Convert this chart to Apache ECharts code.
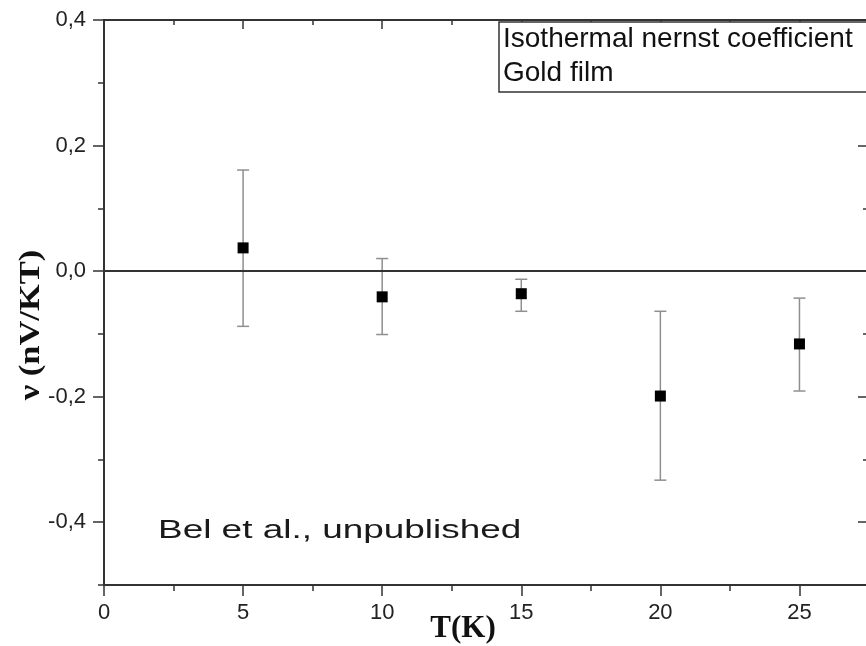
<!DOCTYPE html>
<html><head><meta charset="utf-8">
<script src="https://cdn.jsdelivr.net/npm/echarts@6/dist/echarts.min.js"></script>
<style>
html,body{margin:0;padding:0;overflow:hidden;background:#fff;width:866px;height:646px}
#c{width:880px;height:646px}
</style></head><body><div id="c"></div>
<script>
// ---- data ----
const temps = [5, 10, 15, 20, 25];
const nuValues = [0.037, -0.041, -0.036, -0.199, -0.116];
const errHigh = [0.161, 0.020, -0.013, -0.064, -0.043];
const errLow = [-0.088, -0.101, -0.064, -0.333, -0.191];
const xMajorTicks = [0, 5, 10, 15, 20, 25];
const xMinorTicks = [2.5, 7.5, 12.5, 17.5, 22.5];
const yMajorTicks = [-0.4, -0.2, 0, 0.2, 0.4];
const yMinorTicks = [-0.5, -0.3, -0.1, 0.1, 0.3];
const legendLines = ['Isothermal nernst coefficient', 'Gold film'];
const noteText = 'Bel et al., unpublished';
const xTitle = 'T(K)';
const yTitle = 'ν (nV/KT)';

const AX = '#333';
const labelFont = 'Liberation Sans, Arial, sans-serif';

function xAx(position, ticks, len, inside, withLabels) {
  return {
    type: 'value', gridIndex: 0, position: position, min: 0, max: 27.5,
    axisLine: {show: true, onZero: false, lineStyle: {color: AX, width: 2}},
    axisTick: {show: true, customValues: ticks, length: len, inside: inside, lineStyle: {color: AX, width: 1.5}},
    axisLabel: withLabels ? {show: true, customValues: ticks, margin: 17, fontSize: 22, fontFamily: labelFont, color: '#222',
      formatter: v => String(v)} : {show: false},
    splitLine: {show: false}
  };
}
function yAx(position, ticks, len, inside, withLabels) {
  return {
    type: 'value', gridIndex: 0, position: position, min: -0.5, max: 0.4,
    axisLine: {show: true, onZero: false, lineStyle: {color: AX, width: 2}},
    axisTick: {show: true, customValues: ticks, length: len, inside: inside, lineStyle: {color: AX, width: 1.5}},
    axisLabel: withLabels ? {show: true, customValues: ticks, margin: 18, fontSize: 22, fontFamily: labelFont, color: '#222',
      formatter: v => v.toFixed(1).replace('.', ',')} : {show: false},
    splitLine: {show: false}
  };
}

const chart = echarts.init(document.getElementById('c'), null, {renderer: 'canvas'});
chart.setOption({
  animation: false,
  backgroundColor: '#fff',
  grid: {left: 104, top: 20, width: 765, height: 565, outerBoundsMode: 'none', containLabel: false},
  xAxis: [
    xAx('bottom', xMajorTicks, 11, false, true),
    xAx('bottom', xMinorTicks, 6, false, false),
    xAx('top', xMajorTicks, 9, true, false),
    xAx('top', xMinorTicks, 5, true, false)
  ],
  yAxis: [
    yAx('left', yMajorTicks, 11, false, true),
    yAx('left', yMinorTicks, 6, false, false),
    yAx('right', yMajorTicks, 11, true, false),
    yAx('right', yMinorTicks, 6, true, false)
  ],
  series: [
    {
      type: 'custom', xAxisIndex: 0, yAxisIndex: 0, z: 2,
      data: temps.map((t, i) => [t, errLow[i], errHigh[i]]),
      encode: {x: 0, y: [1, 2]},
      renderItem: function (params, api) {
        const x = api.value(0);
        const pLo = api.coord([x, api.value(1)]);
        const pHi = api.coord([x, api.value(2)]);
        const hw = 6;
        const st = {stroke: '#8f8f8f', lineWidth: 1.5, fill: null};
        return {type: 'group', children: [
          {type: 'line', shape: {x1: pLo[0], y1: pLo[1], x2: pHi[0], y2: pHi[1]}, style: st},
          {type: 'line', shape: {x1: pHi[0] - hw, y1: pHi[1], x2: pHi[0] + hw, y2: pHi[1]}, style: st},
          {type: 'line', shape: {x1: pLo[0] - hw, y1: pLo[1], x2: pLo[0] + hw, y2: pLo[1]}, style: st}
        ]};
      }
    },
    {
      type: 'scatter', xAxisIndex: 0, yAxisIndex: 0, z: 4,
      symbol: 'rect', symbolSize: 11,
      itemStyle: {color: '#000', opacity: 1},
      data: temps.map((t, i) => [t, nuValues[i]]),
      markLine: {
        silent: true, symbol: ['none', 'none'], label: {show: false},
        lineStyle: {color: AX, width: 2, type: 'solid'},
        emphasis: {disabled: true},
        data: [{yAxis: 0}]
      }
    }
  ],
  graphic: [
    {type: 'rect', z: 10, shape: {x: 499, y: 22, width: 420, height: 70},
     style: {fill: '#fff', stroke: AX, lineWidth: 1.5}},
    {type: 'text', z: 11, x: 503, y: 39,
     style: {text: legendLines[0], font: '28px ' + labelFont, fill: '#111', align: 'left', verticalAlign: 'middle'}},
    {type: 'text', z: 11, x: 503, y: 73,
     style: {text: legendLines[1], font: '28px ' + labelFont, fill: '#111', align: 'left', verticalAlign: 'middle'}},
    {type: 'text', z: 11, x: 158, y: 531, scaleX: 1.42,
     style: {text: noteText, font: '26px ' + labelFont, fill: '#1a1a1a', align: 'left', verticalAlign: 'middle'}},
    {type: 'text', z: 11, x: 463, y: 629,
     style: {text: xTitle, font: 'bold 31px "Liberation Serif", "Times New Roman", serif', fill: '#111', align: 'center', verticalAlign: 'middle'}},
    {type: 'text', z: 11, x: 31, y: 325, rotation: Math.PI / 2, scaleX: 1.15,
     style: {text: yTitle, font: 'bold 30px "Liberation Serif", "Times New Roman", serif', fill: '#111', align: 'center', verticalAlign: 'middle'}}
  ]
});
</script></body></html>
